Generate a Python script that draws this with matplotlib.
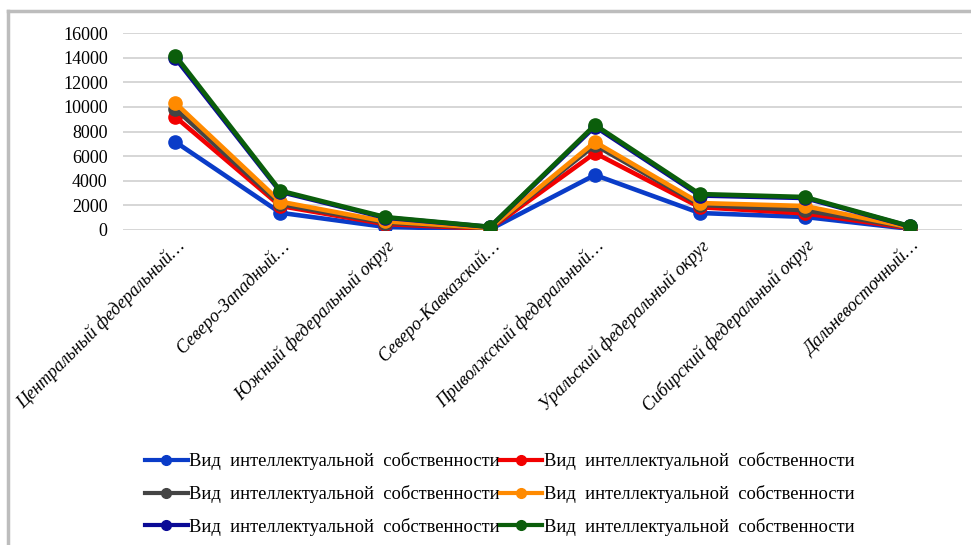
import matplotlib
matplotlib.use("Agg")
import matplotlib.pyplot as plt
from matplotlib.lines import Line2D

regions = [
    "Центральный федеральный…",
    "Северо-Западный…",
    "Южный федеральный округ",
    "Северо-Кавказский…",
    "Приволжский федеральный…",
    "Уральский федеральный округ",
    "Сибирский федеральный округ",
    "Дальневосточный…",
]

series_label = "Вид  интеллектуальной  собственности"

blue_vals = [7150, 1400, 250, 50, 4470, 1380, 1060, 100]
red_vals = [9180, 1950, 480, 100, 6250, 1850, 1350, 150]
gray_vals = [9830, 2100, 600, 150, 6900, 2050, 1600, 200]
orange_vals = [10310, 2300, 700, 170, 7150, 2190, 1950, 220]
navy_vals = [13950, 3100, 1000, 250, 8400, 2800, 2600, 300]
green_vals = [14160, 3190, 1050, 260, 8530, 2920, 2680, 320]

series = [blue_vals, red_vals, gray_vals, orange_vals, navy_vals, green_vals]
colors = ["#0A3CC8", "#F20000", "#444444", "#FF8A00", "#0A0A96", "#0B5E0B"]
yticks = [0, 2000, 4000, 6000, 8000, 10000, 12000, 14000, 16000]

fig = plt.figure(figsize=(9.71, 5.45), dpi=100)
ax = fig.add_axes([123 / 971, 1 - 230 / 545, (962 - 123) / 971, (230 - 33) / 545])

x = list(range(len(regions)))
for vals, c in zip(series, colors):
    ax.plot(x, vals, "-o", color=c, linewidth=3.3, markersize=9.5, solid_joinstyle="round")

ax.set_xlim(-0.5, len(regions) - 0.5)
ax.set_ylim(0, 16000)
ax.set_yticks(yticks)
ax.set_yticklabels([str(v) for v in yticks], fontfamily="Liberation Serif", fontsize=13)
ax.tick_params(axis="y", length=0, pad=11)
ax.tick_params(axis="x", length=0, pad=5)
ax.set_xticks(x)
ax.set_xticklabels(regions, rotation=45, ha="right", va="top", rotation_mode="anchor",
                   fontfamily="Liberation Serif", fontstyle="italic", fontsize=13)
ax.grid(axis="y", color="#d0d0d0", linewidth=1.2)
ax.set_axisbelow(True)
for s in ax.spines.values():
    s.set_visible(False)

# legend: matplotlib fills columns first, reorder so rows read pairwise
order = [0, 2, 4, 1, 3, 5]
handles = [Line2D([0], [0], color=colors[i], marker="o", linewidth=3, markersize=7) for i in order]
fig.legend(handles, [series_label] * 6, ncol=2, loc="center", bbox_to_anchor=(500 / 971, 1 - 494 / 545),
           frameon=False, prop={"family": "Liberation Serif", "size": 13.3},
           handlelength=2.3, handletextpad=0.1, columnspacing=0.0, labelspacing=0.8)

# outer frame (left and top edges visible)
fig.add_artist(Line2D([7.5 / 971, 7.5 / 971], [0, 1 - 10.5 / 545], color="#bdbdbd", linewidth=2.5,
                      transform=fig.transFigure))
fig.add_artist(Line2D([7.5 / 971, 1], [1 - 10.5 / 545, 1 - 10.5 / 545], color="#bdbdbd", linewidth=2.5,
                      transform=fig.transFigure))

fig.savefig("out.png", dpi=100)
